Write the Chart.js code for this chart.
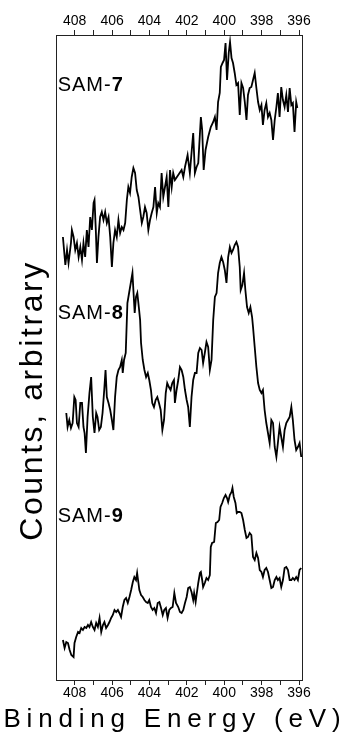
<!DOCTYPE html>
<html>
<head>
<meta charset="utf-8">
<script src="https://cdn.jsdelivr.net/npm/chart.js@4/dist/chart.umd.min.js"></script>
<style>
  html, body { margin: 0; padding: 0; background: #fff; }
  canvas { display: block; }
</style>
</head>
<body>
<canvas id="xps" width="344" height="732"></canvas>
<script>
// N 1s XPS spectra of three monolayers, stacked with vertical offsets.

// Binding energy axis (eV), drawn high-to-low.
const energyMin = 395.84;
const energyMax = 409.0;
const tickValues = [396, 397, 398, 399, 400, 401, 402, 403, 404, 405, 406, 407, 408];
const tickLabels = ['396', '', '398', '', '400', '', '402', '', '404', '', '406', '', '408'];
const countsMax = 645;

// SAM-7
const sam7Energy = [408.63, 408.50, 408.41, 408.33, 408.20, 408.15, 408.06, 407.97, 407.88, 407.79,
  407.70, 407.61, 407.53, 407.44, 407.35, 407.26, 407.17, 407.08, 406.99, 406.94,
  406.87, 406.81, 406.73, 406.64, 406.55, 406.46, 406.37, 406.28, 406.19, 406.10,
  406.01, 405.93, 405.84, 405.75, 405.66, 405.57, 405.48, 405.39, 405.30, 405.21,
  405.13, 405.04, 404.95, 404.86, 404.77, 404.68, 404.59, 404.50, 404.41, 404.33,
  404.24, 404.15, 404.06, 403.97, 403.88, 403.79, 403.70, 403.61, 403.53, 403.44,
  403.35, 403.26, 403.17, 403.08, 402.99, 402.90, 402.81, 402.73, 402.64, 402.46,
  402.28, 402.19, 402.10, 401.96, 401.84, 401.66, 401.57, 401.48, 401.39, 401.25,
  401.18, 401.10, 401.00, 400.86, 400.72, 400.59, 400.50, 400.41, 400.33, 400.24,
  400.18, 400.09, 400.01, 399.93, 399.85, 399.76, 399.69, 399.61, 399.53, 399.44,
  399.35, 399.26, 399.17, 399.08, 398.99, 398.90, 398.81, 398.73, 398.64, 398.55,
  398.46, 398.37, 398.28, 398.19, 398.10, 398.01, 397.93, 397.84, 397.75, 397.66,
  397.57, 397.48, 397.39, 397.30, 397.21, 397.13, 397.04, 396.95, 396.86, 396.77,
  396.68, 396.59, 396.50, 396.41, 396.33, 396.24, 396.15, 396.09];
const sam7Counts = [443, 415, 430, 417, 437, 450, 443, 430, 437, 423,
  433, 420, 437, 423, 450, 433, 463, 450, 477, 480,
  450, 417, 443, 463, 468, 460, 468, 457, 463, 443,
  413, 437, 450, 443, 460, 447, 453, 450, 457, 480,
  493, 487, 503, 512, 507, 490, 483, 470, 457, 463,
  473, 467, 450, 460, 467, 473, 493, 467, 477, 473,
  507, 483, 493, 503, 473, 510, 493, 507, 500, 505,
  510, 503, 513, 525, 507, 547, 507, 513, 517, 563,
  550, 510, 530, 543, 553, 558, 563, 550, 578, 587,
  613, 617, 620, 637, 600, 627, 638, 622, 617, 607,
  595, 597, 565, 597, 592, 578, 560, 585, 592, 593,
  600, 607, 592, 578, 570, 575, 555, 570, 577, 563,
  567, 560, 540, 560, 573, 587, 563, 593, 580, 573,
  585, 568, 592, 575, 577, 548, 578, 572];

// SAM-8
const sam8Energy = [408.45, 408.38, 408.29, 408.20, 408.11, 408.02, 407.95, 407.88, 407.79, 407.70,
  407.61, 407.53, 407.47, 407.40, 407.31, 407.21, 407.12, 407.03, 406.94, 406.85,
  406.78, 406.69, 406.60, 406.51, 406.42, 406.35, 406.28, 406.19, 406.10, 406.01,
  405.93, 405.84, 405.75, 405.66, 405.57, 405.48, 405.43, 405.36, 405.27, 405.18,
  405.09, 405.00, 404.91, 404.86, 404.79, 404.72, 404.65, 404.57, 404.50, 404.45,
  404.36, 404.27, 404.18, 404.09, 404.01, 403.92, 403.85, 403.76, 403.67, 403.58,
  403.49, 403.40, 403.31, 403.22, 403.13, 403.05, 402.96, 402.87, 402.78, 402.69,
  402.64, 402.55, 402.46, 402.37, 402.28, 402.19, 402.10, 402.01, 401.93, 401.84,
  401.75, 401.66, 401.57, 401.48, 401.39, 401.30, 401.21, 401.13, 401.04, 400.95,
  400.86, 400.77, 400.68, 400.59, 400.50, 400.41, 400.33, 400.24, 400.15, 400.06,
  399.97, 399.88, 399.79, 399.70, 399.61, 399.53, 399.44, 399.35, 399.26, 399.17,
  399.12, 399.03, 398.94, 398.87, 398.78, 398.69, 398.60, 398.51, 398.46, 398.37,
  398.28, 398.19, 398.10, 398.01, 397.93, 397.84, 397.75, 397.66, 397.57, 397.48,
  397.39, 397.30, 397.21, 397.13, 397.04, 396.95, 396.86, 396.77, 396.68, 396.59,
  396.50, 396.41, 396.33, 396.24, 396.15, 396.06, 395.97, 395.88];
const sam8Counts = [267, 253, 260, 252, 257, 283, 280, 257, 253, 277,
  277, 253, 247, 227, 263, 287, 303, 263, 247, 267,
  263, 250, 253, 267, 290, 310, 283, 277, 270, 260,
  250, 283, 303, 310, 313, 320, 307, 320, 327, 377,
  387, 397, 407, 390, 367, 383, 387, 373, 360, 337,
  320, 310, 303, 307, 300, 290, 277, 273, 280, 283,
  277, 270, 250, 260, 287, 297, 293, 290, 297, 300,
  277, 290, 300, 313, 310, 303, 290, 280, 273, 253,
  283, 300, 307, 307, 327, 332, 330, 317, 327, 338,
  333, 310, 320, 360, 383, 387, 407, 417, 423, 418,
  410, 397, 423, 433, 427, 430, 435, 438, 433, 413,
  390, 395, 407, 390, 373, 367, 373, 363, 353, 333,
  313, 297, 290, 287, 290, 270, 257, 247, 237, 260,
  257, 233, 223, 237, 253, 243, 233, 250, 257, 260,
  263, 273, 260, 240, 230, 233, 237, 223];

// SAM-9
const sam9Energy = [408.63, 408.54, 408.45, 408.36, 408.27, 408.18, 408.06, 408.01, 407.92, 407.82,
  407.74, 407.65, 407.56, 407.47, 407.38, 407.29, 407.21, 407.12, 407.03, 406.94,
  406.85, 406.76, 406.67, 406.58, 406.49, 406.41, 406.32, 406.22, 406.14, 406.05,
  405.96, 405.87, 405.78, 405.69, 405.61, 405.52, 405.43, 405.34, 405.25, 405.16,
  405.07, 404.98, 404.89, 404.81, 404.72, 404.66, 404.59, 404.54, 404.45, 404.36,
  404.27, 404.18, 404.09, 404.01, 403.92, 403.83, 403.74, 403.65, 403.56, 403.47,
  403.38, 403.29, 403.21, 403.12, 403.03, 402.94, 402.85, 402.76, 402.67, 402.58,
  402.46, 402.37, 402.28, 402.19, 402.10, 402.01, 401.93, 401.84, 401.75, 401.66,
  401.61, 401.53, 401.48, 401.39, 401.30, 401.25, 401.18, 401.13, 401.04, 400.95,
  400.86, 400.77, 400.72, 400.65, 400.54, 400.45, 400.36, 400.27, 400.20, 400.11,
  400.02, 399.93, 399.85, 399.79, 399.70, 399.61, 399.56, 399.49, 399.40, 399.33,
  399.26, 399.17, 399.08, 398.99, 398.90, 398.81, 398.73, 398.64, 398.55, 398.46,
  398.37, 398.28, 398.19, 398.10, 398.01, 397.93, 397.84, 397.75, 397.66, 397.57,
  397.48, 397.39, 397.30, 397.21, 397.13, 397.04, 396.95, 396.86, 396.77, 396.68,
  396.59, 396.50, 396.41, 396.33, 396.24, 396.15, 396.06, 395.97, 395.88];
const sam9Counts = [40, 32, 38, 37, 30, 25, 23, 37, 43, 48,
  47, 52, 50, 53, 52, 55, 53, 58, 53, 50,
  57, 53, 62, 48, 55, 58, 52, 55, 58, 62,
  65, 70, 68, 70, 67, 63, 73, 80, 82, 77,
  83, 90, 98, 103, 100, 107, 97, 90, 85, 83,
  80, 78, 77, 80, 73, 70, 72, 67, 77, 78,
  72, 65, 70, 72, 62, 70, 72, 73, 87, 77,
  73, 68, 67, 70, 77, 83, 92, 93, 88, 80,
  87, 78, 85, 97, 107, 108, 100, 93, 97, 102,
  100, 105, 133, 137, 138, 157, 158, 160, 173, 177,
  182, 185, 182, 178, 185, 188, 192, 183, 177, 167,
  168, 168, 167, 160, 150, 142, 143, 147, 145, 123,
  120, 127, 122, 110, 108, 103, 110, 112, 108, 100,
  92, 93, 100, 103, 100, 102, 93, 100, 112, 113,
  110, 100, 100, 102, 100, 103, 100, 110, 112];

// Sample names; the last character is set in bold.
const sampleNames = ['SAM-7', 'SAM-8', 'SAM-9'];
const sampleNameEnergy = [408.91, 408.91, 408.91];
const sampleNameCounts = [589, 361, 158];

const FONT = '"Liberation Sans", Arial, Helvetica, sans-serif';

function toPoints(xs, ys) {
  return xs.map((x, i) => ({ x: x, y: ys[i] }));
}

function drawSpaced(ctx, text, x, y, spacing) {
  for (const ch of text) {
    ctx.fillText(ch, x, y);
    x += ctx.measureText(ch).width + spacing;
  }
  return x;
}
function spacedWidth(ctx, text, spacing) {
  let w = 0;
  const chars = Array.from(text);
  chars.forEach(ch => { w += ctx.measureText(ch).width; });
  return w + spacing * (chars.length - 1);
}

const sampleLabelPlugin = {
  id: 'sampleLabels',
  afterDatasetsDraw(chart) {
    const ctx = chart.ctx;
    const xs = chart.scales.x, ys = chart.scales.y;
    ctx.save();
    ctx.fillStyle = '#000';
    ctx.textBaseline = 'alphabetic';
    ctx.textAlign = 'left';
    sampleNames.forEach((name, i) => {
      const px = xs.getPixelForValue(sampleNameEnergy[i]);
      const py = ys.getPixelForValue(sampleNameCounts[i]);
      ctx.font = '20px ' + FONT;
      let x = drawSpaced(ctx, name.slice(0, -1), px, py, 1);
      ctx.font = 'bold 20px ' + FONT;
      drawSpaced(ctx, name.slice(-1), x, py, 1);
    });
    ctx.restore();
  }
};

const axisTitlePlugin = {
  id: 'axisTitles',
  afterDraw(chart) {
    const ctx = chart.ctx;
    const area = chart.chartArea;
    ctx.save();
    ctx.fillStyle = '#000';
    ctx.textBaseline = 'alphabetic';
    ctx.textAlign = 'left';

    // bottom title
    const xt = 'Binding Energy (eV)';
    ctx.font = '26px ' + FONT;
    const xw = spacedWidth(ctx, xt, 5.8);
    drawSpaced(ctx, xt, chart.width / 2 - xw / 2, area.bottom + 47, 5.8);

    // left title, rotated
    const yt = 'Counts, arbitrary';
    ctx.font = '32px ' + FONT;
    const yw = spacedWidth(ctx, yt, 2.6);
    ctx.translate(area.left - 14, area.top + 366.7);
    ctx.rotate(-Math.PI / 2);
    drawSpaced(ctx, yt, -yw / 2, 0, 2.6);
    ctx.restore();
  }
};

function energyAxis(position, size) {
  return {
    type: 'linear',
    position: position,
    reverse: true,
    min: energyMin,
    max: energyMax,
    afterBuildTicks: s => { s.ticks = tickValues.map(v => ({ value: v })); },
    afterFit: s => { s.height = size; },
    ticks: {
      autoSkip: false,
      maxRotation: 0,
      minRotation: 0,
      padding: 0,
      color: '#000',
      font: { family: FONT, size: 14 },
      callback: v => tickLabels[tickValues.indexOf(v)]
    },
    grid: { drawOnChartArea: false, drawTicks: true, tickLength: 5, color: '#222', lineWidth: 1 },
    border: { display: true, color: '#222', width: 1 }
  };
}

function countsAxis(position, size) {
  return {
    type: 'linear',
    position: position,
    min: 0,
    max: countsMax,
    afterFit: s => { s.width = size; },
    ticks: { display: false },
    grid: { display: false, drawTicks: false },
    border: { display: true, color: '#222', width: 1 }
  };
}

const lineStyle = { borderColor: '#000', borderWidth: 1.8, pointRadius: 0, tension: 0, fill: false };

new Chart(document.getElementById('xps'), {
  type: 'line',
  data: {
    datasets: [
      Object.assign({ label: 'SAM-7', data: toPoints(sam7Energy, sam7Counts) }, lineStyle),
      Object.assign({ label: 'SAM-8', data: toPoints(sam8Energy, sam8Counts) }, lineStyle),
      Object.assign({ label: 'SAM-9', data: toPoints(sam9Energy, sam9Counts) }, lineStyle)
    ]
  },
  options: {
    responsive: false,
    devicePixelRatio: 1,
    animation: false,
    layout: { padding: 0 },
    plugins: { legend: { display: false }, tooltip: { enabled: false }, title: { display: false } },
    scales: {
      x: energyAxis('bottom', 52),
      xTop: energyAxis('top', 35),
      y: countsAxis('left', 56),
      yRight: countsAxis('right', 42)
    }
  },
  plugins: [sampleLabelPlugin, axisTitlePlugin]
});
</script>
</body>
</html>
